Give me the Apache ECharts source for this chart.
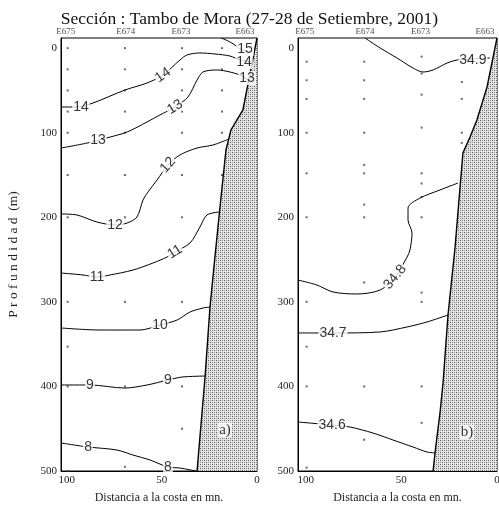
<!DOCTYPE html>
<html><head><meta charset="utf-8">
<script src="https://cdn.jsdelivr.net/npm/echarts@6/dist/echarts.min.js"></script>
<style>html,body{margin:0;padding:0;background:#fff}#c{width:499px;height:509px}</style>
</head><body><div id="c"></div>
<script>
// ---------------- DATA ----------------
const depthTicks = [0, 100, 200, 300, 400, 500];
const distTicks = [0, 50, 100];
const stationNames = ['E675', 'E674', 'E673', 'E663'];
const stationDist = [100.5, 69, 40, 6.3];

// Panel a) temperature (°C) contours: [distance (mn), depth (m)]
const t15 = [[18.9,-12],[15.2,-8.5],[11.6,-3.7],[8.9,1.0],[3.7,4.6]];
const t14 = [[103,69.6],[94.6,69.6],[86.2,64.9],[69.4,49.5],[57.8,41.2],[49.4,31.8],[40.5,14.0],[36.8,8.1],[30.0,5.7],[22.1,6.9],[14.2,9.3],[8.9,14.0],[2.6,16.4]];
const t13 = [[103,118.1],[89.3,112.2],[77.2,105.1],[68.3,99.2],[57.8,87.3],[51.0,79.0],[43.1,69.6],[36.3,57.8],[31.5,37.7],[28.4,28.2],[21.0,25.8],[14.2,28.2],[8.9,31.8],[4.2,37.7]];
const t12 = [[103,196.1],[94.6,197.3],[84.1,205.6],[74.6,209.1],[68.3,206.8],[63.1,199.7],[59.9,179.6],[57.3,170.1],[52.5,155.9],[46.8,138.2],[40.5,126.3],[31.5,118.1],[23.1,114.5],[14.7,107.4]];
const t11 = [[103,265.9],[91.4,268.2],[84.1,270.6],[77.2,268.2],[65.2,262.4],[54.7,254.1],[47.3,247.0],[43.1,241.0],[35.2,230.4],[30.0,211.5],[26.3,197.3],[20.0,193.7]];
const t10 = [[103,330.9],[82.5,333.3],[61.5,333.3],[51.0,327.4],[42.0,321.5],[35.2,312.0],[28.4,307.3],[24.7,306.1]];
const t9  = [[103,398.3],[87.8,398.3],[69.4,401.9],[57.8,398.3],[46.8,392.4],[39.4,388.9],[27.3,387.7]];
const t8  = [[103,466.9],[88.8,471.6],[73.6,475.2],[65.2,481.1],[56.2,487.0],[46.8,495.3],[40.5,496.5],[32.1,500]];
// contour labels: [distance, depth, text]
const tempLabels = [
  [6.3,1.0,'15'],[92.5,69.6,'14'],[49.4,31.8,'14'],[6.8,16.4,'14'],
  [83.6,108.6,'13'],[43.1,69.6,'13'],[5.3,35.3,'13'],
  [74.6,209.1,'12'],[46.8,138.2,'12'],
  [84.1,270.6,'11'],[43.1,241.0,'11'],
  [51.0,327.4,'10'],
  [87.8,398.3,'9'],[46.8,392.4,'9'],
  [88.8,471.6,'8'],[46.8,495.3,'8']
];
// bottom profile (panel a)
const bottomA = [[0,-12],[7.4,73.1],[13.7,96.8],[16.3,120.4],[18.9,176.0],[22.1,247.0],[24.7,306.1],[27.3,388.9],[31.5,500]];

// Panel b) salinity contours
const s349 = [[69.0,-12],[61.1,-0.2],[52.3,11.6],[43.9,23.5],[38.7,28.2],[33.4,25.8],[26.1,17.6],[20.9,14.0],[14.1,12.8],[3.7,11.6]];
const s348 = [[104,274.2],[94.1,280.1],[85.7,288.3],[73.2,290.7],[61.1,286.0],[53.3,270.6],[47.0,247.0],[45.5,238.7],[44.4,218.6],[46.5,203.2],[46.5,189.0],[40.2,177.2],[29.8,167.7],[20.4,159.5]];
const s347 = [[104,336.8],[84.7,336.8],[61.1,335.6],[47.0,329.7],[36.6,323.8],[25.6,315.5]];
const s346 = [[104,442.1],[86.2,445.6],[76.8,448.0],[64.8,455.1],[54.4,463.3],[43.9,471.6],[36.6,477.5],[31.9,478.7]];
const salLabels = [
  [12.6,14.0,'34.9'],[53.3,270.6,'34.8'],[85.7,336.8,'34.7'],[86.2,445.6,'34.6']
];
const bottomB = [[0,-12],[5.2,45.9],[8.9,73.1],[10.5,85.0],[14.1,105.1],[17.8,124.0],[19.3,164.2],[21.9,235.1],[25.6,315.5],[28.2,395.9],[29.8,431.4],[32.4,478.7],[33.4,500]];

// sampling points (distance, list of depths)
const sampleDist = [99.5, 69.4, 39.4, 18.4];
const sampleDepthsA = [
  [0,25,50,75,100,150,200,300,353,400,500],
  [0,25,50,75,100,150,200,300,400,495],
  [0,25,50,75,100,150,200,300,400,450],
  [0,25,50,75,100,150]
];
const sampleDepthsB = [
  [16,38,60,100,148,200,300,353,400,496],
  [16,38,60,100,138,148,185,200,277,400,463],
  [10,30,55,94,148,160,176,200,289,300,400,443],
  [16,40,60,100,112]
];
const panelTags = [[16.8,451.5,'a)'],[15.7,453.9,'b)']];

// ---------------- STYLE ----------------
const SERIF = "'Liberation Serif','DejaVu Serif',serif";
const SANS = "'Liberation Sans','DejaVu Sans',sans-serif";
const tempRot = [0,0,35,0, 0,32,0, 0,48, 0,32, 0, 0,0, 0,0];
const salRot = [0,50,0,0];

function makePattern(){
  const c = document.createElement('canvas'); c.width = 4; c.height = 4;
  const g = c.getContext('2d');
  g.fillStyle = '#e2e2e2'; g.fillRect(0,0,4,4);
  g.fillStyle = '#5e5e5e'; g.fillRect(0,0,1,1); g.fillRect(2,2,1,1);
  g.fillStyle = '#a0a0a0'; g.fillRect(2,0,1,1); g.fillRect(0,2,1,1);
  return c;
}
const pat = makePattern();

function xAx(gi, max){
  return {type:'value', gridIndex:gi, min:0, max:max, inverse:true, position:'bottom',
    axisLine:{show:true, onZero:false, lineStyle:{color:'#000', width:1}},
    axisTick:{show:false}, splitLine:{show:false},
    axisLabel:{customValues:distTicks, fontFamily:SERIF, fontSize:11, color:'#222', margin:4},
    name:'Distancia a la costa en mn.', nameLocation:'middle', nameGap:21,
    nameTextStyle:{fontFamily:SERIF, fontSize:12, color:'#222'}};
}
function yAx(gi, withName){
  const a = {type:'value', gridIndex:gi, min:-12, max:500, inverse:true, position:'left',
    axisLine:{show:true, onZero:false, lineStyle:{color:'#000', width:1}},
    axisTick:{show:false}, splitLine:{show:false},
    axisLabel:{customValues:depthTicks, fontFamily:SERIF, fontSize:11, color:'#222', margin:4}};
  if (withName){
    a.name = 'P r o f u n d i d a d  (m)'; a.nameLocation = 'middle'; a.nameGap = 41;
    a.nameTextStyle = {fontFamily:SERIF, fontSize:13.5, color:'#222'};
  }
  return a;
}
function contour(pts, gi){
  return {type:'line', xAxisIndex:gi, yAxisIndex:gi, data:pts, showSymbol:false, symbol:'none',
    smooth:0.3, lineStyle:{color:'#000', width:1}, z:3, silent:true};
}
function labelSeries(labels, rots, gi){
  return {type:'scatter', xAxisIndex:gi, yAxisIndex:gi, symbolSize:1, z:10, silent:true,
    itemStyle:{color:'rgba(0,0,0,0)'},
    data: labels.map((l,i)=>({value:[l[0],l[1]], label:{formatter:l[2], rotate:rots[i]}})),
    label:{show:true, position:'inside', fontFamily:SANS, fontSize:14, color:'#000',
      backgroundColor:'#fff', padding:[0,1]}};
}
function bottomSeries(pts, gi){
  const poly = pts.concat([[0,500]]);
  return {type:'custom', xAxisIndex:gi, yAxisIndex:gi, data:[[0,0]], silent:true, z:5,
    renderItem:(params, api)=>({type:'group', children:[
      {type:'polygon', shape:{points:poly.map(p=>api.coord(p))}, style:{fill:{image:pat, repeat:'repeat'}}},
      {type:'polyline', shape:{points:pts.map(p=>api.coord(p))}, style:{stroke:'#000', lineWidth:1.4, fill:null}}
    ]})};
}
function dotSeries(depthLists, gi){
  const d = [];
  depthLists.forEach((list,i)=>list.forEach(z=>d.push([sampleDist[i], z])));
  return {type:'scatter', xAxisIndex:gi, yAxisIndex:gi, data:d, symbol:'rect', symbolSize:2,
    itemStyle:{color:'#444'}, z:2, silent:true};
}
function stationSeries(gi){
  return {type:'scatter', xAxisIndex:gi, yAxisIndex:gi, symbolSize:1, itemStyle:{color:'rgba(0,0,0,0)'},
    data: stationNames.map((n,i)=>({value:[stationDist[i], -12], label:{formatter:n}})),
    label:{show:true, position:'top', distance:1, fontFamily:SERIF, fontSize:9, color:'#222'}, silent:true, z:10};
}
function tagSeries(i, gi){
  const t = panelTags[i];
  return {type:'scatter', xAxisIndex:gi, yAxisIndex:gi, symbolSize:1, itemStyle:{color:'rgba(0,0,0,0)'},
    data:[{value:[t[0],t[1]], label:{formatter:t[2]}}],
    label:{show:true, position:'inside', fontFamily:SERIF, fontSize:15, color:'#000', backgroundColor:'#fff', padding:[0,1]},
    silent:true, z:11};
}

const chart = echarts.init(document.getElementById('c'), null, {renderer:'canvas'});
chart.setOption({
  animation:false,
  backgroundColor:'#fff',
  title:{text:'Sección : Tambo de Mora (27-28 de Setiembre, 2001)', left:'center', top:5,
    textStyle:{fontFamily:SERIF, fontSize:17.5, fontWeight:'normal', color:'#111'}},
  grid:[
    {left:61, top:38, width:196, height:433, show:true, borderColor:'#000', borderWidth:1, outerBoundsMode:'none', containLabel:false},
    {left:298, top:38, width:199, height:433, show:true, borderColor:'#000', borderWidth:1, outerBoundsMode:'none', containLabel:false}
  ],
  xAxis:[xAx(0,103), xAx(1,104)],
  yAxis:[yAx(0,true), yAx(1,false)],
  series:[
    contour(t15,0), contour(t14,0), contour(t13,0), contour(t12,0), contour(t11,0),
    contour(t10,0), contour(t9,0), contour(t8,0),
    bottomSeries(bottomA,0), dotSeries(sampleDepthsA,0), labelSeries(tempLabels,tempRot,0),
    stationSeries(0), tagSeries(0,0),
    contour(s349,1), contour(s348,1), contour(s347,1), contour(s346,1),
    bottomSeries(bottomB,1), dotSeries(sampleDepthsB,1), labelSeries(salLabels,salRot,1),
    stationSeries(1), tagSeries(1,1)
  ]
});
</script></body></html>
